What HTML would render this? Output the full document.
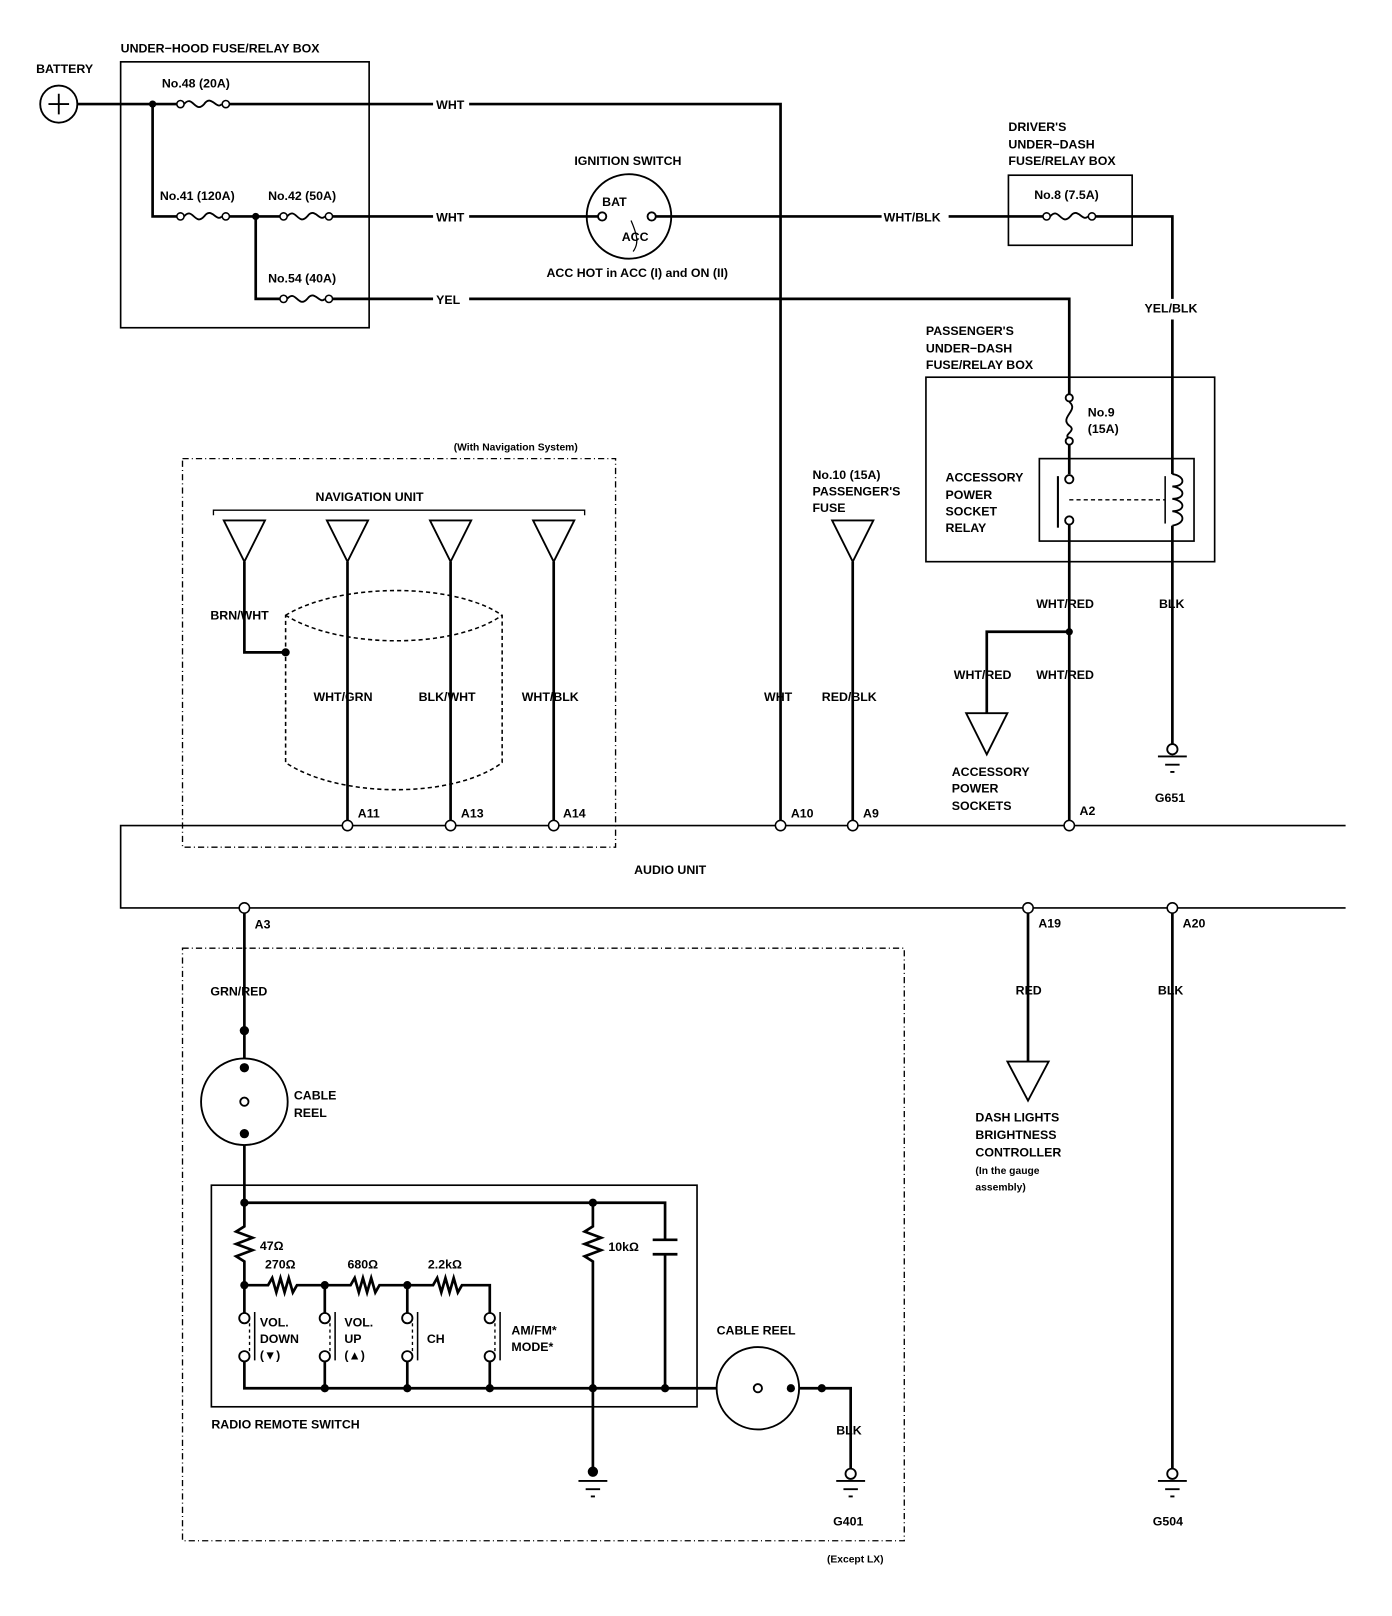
<!DOCTYPE html>
<html><head><meta charset="utf-8"><style>
html,body{margin:0;padding:0;background:#fff}
svg{display:block}
text{font-family:"Liberation Sans",sans-serif;font-weight:bold;font-size:12px;fill:#000}
</style></head><body>
<svg width="1392" height="1616" viewBox="0 0 1350 1568" preserveAspectRatio="none" xmlns="http://www.w3.org/2000/svg">
<defs>
<g id="fh"><circle cx="0" cy="0" r="3.5" fill="#fff" stroke="#000" stroke-width="1.5"/><path d="M3.5,0 C12,-10 14,10 23,0 C30,-10 35,6 40,0" fill="none" stroke="#000" stroke-width="1.8"/><circle cx="44" cy="0" r="3.5" fill="#fff" stroke="#000" stroke-width="1.5"/></g>
</defs>
<g fill="none" stroke="#000" stroke-width="1.6">
<!-- boxes -->
<rect x="117" y="60" width="241" height="258"/>
<rect x="978" y="170" width="120" height="68"/>
<rect x="898" y="366" width="280" height="179"/>
<rect x="1008" y="445" width="150" height="80"/>
<rect x="205" y="1150" width="471" height="215"/>
<path d="M1305,801 H117 V881 H1305"/>
<rect x="177" y="445" width="420" height="377" stroke-dasharray="6,3,1,3" stroke-width="1.3"/>
<rect x="177" y="920" width="700" height="575" stroke-dasharray="6,3,1,3" stroke-width="1.3"/>
<path d="M207,500 V495 H567 V500" stroke-width="1.3"/>
<!-- cylinder -->
<path d="M277,597 C330,565 440,565 487,597 V740 C440,775 330,775 277,740 Z M277,597 C330,630 440,630 487,597" stroke-dasharray="4,3" stroke-width="1.5"/>
</g>
<g fill="none" stroke="#000" stroke-width="2.6">
<path d="M75,101 H175 M219,101 H420 M455,101 H757 V801"/>
<path d="M148,101 V210 H175 M219,210 H275 M319,210 H420 M455,210 H580"/>
<path d="M248,210 V290 H275 M319,290 H420 M455,290 H1037 V383"/>
<path d="M636,210 H855 M920,210 H1015 M1059,210 H1137 V290 M1137,310 V460 M1137,510 V722"/>
<path d="M1037,428 V460 M1037,508 V801"/>
<path d="M1037,613 H957 V692"/>
<path d="M237,545 V633 H277 M337,545 V801 M437,545 V801 M537,545 V801 M827,545 V801"/>
<path d="M237,881 V1027 M237,1111 V1167 H645 V1203 M645,1217 V1347"/>
<path d="M997,881 V1030 M1137,881 V1425"/>
<path d="M237,1167 V1190 L229,1195 L245,1201 L229,1207 L245,1213 L229,1219 L237,1224 V1275"/>
<path d="M575,1167 V1190 L567,1195 L583,1201 L567,1207 L583,1213 L567,1219 L575,1224 V1430"/>
<path d="M237,1247 H260 L264,1240 L268,1254 L272,1240 L276,1254 L280,1240 L284,1254 L288,1247 H340 L344,1240 L348,1254 L352,1240 L356,1254 L360,1240 L364,1254 L368,1247 H420 L424,1240 L428,1254 L432,1240 L436,1254 L440,1240 L444,1254 L448,1247 H475 V1275"/>
<path d="M315,1247 V1275 M395,1247 V1275"/>
<path d="M237,1321 V1347 H695 M315,1321 V1347 M395,1321 V1347 M475,1321 V1347"/>
<path d="M775,1347 H825 V1425"/>
<path d="M633,1203 H657 M633,1217 H657"/>
</g>
<!-- fuses -->
<use href="#fh" x="175" y="101"/><use href="#fh" x="175" y="210"/><use href="#fh" x="275" y="210"/><use href="#fh" x="275" y="290"/><use href="#fh" x="1015" y="210"/>
<g fill="none" stroke="#000" stroke-width="1.8">
<circle cx="1037" cy="386" r="3.5" fill="#fff"/><path d="M1037,390 C1047,398 1027,405 1037,413 C1045,418 1030,422 1037,425"/><circle cx="1037" cy="428" r="3.5" fill="#fff"/>
<circle cx="57" cy="101" r="18"/><path d="M47,101 H67 M57,91 V111"/>
<circle cx="610" cy="210" r="41"/><circle cx="584" cy="210" r="4" fill="#fff"/><circle cx="632" cy="210" r="4" fill="#fff"/><path d="M612,214 C618,228 620,236 614,244" stroke-width="1.2"/>
<circle cx="1037" cy="465" r="4" fill="#fff"/><circle cx="1037" cy="505" r="4" fill="#fff"/>
<path d="M1026,462 V512" stroke-width="2"/>
<path d="M1037,485 H1130" stroke-dasharray="4,3" stroke-width="1.3"/>
<path d="M1137,460 C1150,462 1150,472 1137,472 C1150,474 1150,484 1137,484 C1150,486 1150,496 1137,496 C1150,498 1150,508 1137,510"/>
<path d="M1130,462 V508" stroke-width="1.5"/>
<path d="M217,505 H257 L237,545 Z M317,505 H357 L337,545 Z M417,505 H457 L437,545 Z M517,505 H557 L537,545 Z M807,505 H847 L827,545 Z"/>
<path d="M937,692 H977 L957,732 Z M977,1030 H1017 L997,1068 Z"/>
<circle cx="237" cy="1069" r="42"/><circle cx="237" cy="1069" r="4"/>
<circle cx="735" cy="1347" r="40"/><circle cx="735" cy="1347" r="4"/>
<!-- switches -->
<g fill="#fff"><circle cx="237" cy="1279" r="5"/><circle cx="237" cy="1316" r="5"/><circle cx="315" cy="1279" r="5"/><circle cx="315" cy="1316" r="5"/><circle cx="395" cy="1279" r="5"/><circle cx="395" cy="1316" r="5"/><circle cx="475" cy="1279" r="5"/><circle cx="475" cy="1316" r="5"/></g>
<path d="M242,1284 V1312 M320,1284 V1312 M400,1284 V1312 M480,1284 V1312" stroke-dasharray="3,3" stroke-width="1.3"/>
<path d="M247,1273 V1320 M325,1273 V1320 M405,1273 V1320 M485,1273 V1320" stroke-width="1.5"/>
<!-- grounds -->
<g fill="#fff"><circle cx="1137" cy="727" r="5"/><circle cx="1137" cy="1430" r="5"/><circle cx="825" cy="1430" r="5"/></g>
<path d="M1123,734 H1151 M1130,742 H1144 M1135,749 H1139 M1123,1437 H1151 M1130,1445 H1144 M1135,1452 H1139 M811,1437 H839 M818,1445 H832 M823,1452 H827 M561,1437 H589 M568,1445 H582 M573,1452 H577"/>
<!-- terminals -->
<g fill="#fff" stroke-width="1.5"><circle cx="337" cy="801" r="5"/><circle cx="437" cy="801" r="5"/><circle cx="537" cy="801" r="5"/><circle cx="757" cy="801" r="5"/><circle cx="827" cy="801" r="5"/><circle cx="1037" cy="801" r="5"/><circle cx="237" cy="881" r="5"/><circle cx="997" cy="881" r="5"/><circle cx="1137" cy="881" r="5"/></g>
</g>
<g fill="#000">
<circle cx="148" cy="101" r="3.5"/><circle cx="248" cy="210" r="3.5"/><circle cx="277" cy="633" r="4"/><circle cx="1037" cy="613" r="3.5"/>
<circle cx="237" cy="1000" r="4.5"/><circle cx="237" cy="1036" r="4.5"/><circle cx="237" cy="1100" r="4.5"/>
<circle cx="237" cy="1167" r="4"/><circle cx="575" cy="1167" r="4"/><circle cx="237" cy="1247" r="4"/><circle cx="315" cy="1247" r="4"/><circle cx="395" cy="1247" r="4"/>
<circle cx="315" cy="1347" r="4"/><circle cx="395" cy="1347" r="4"/><circle cx="475" cy="1347" r="4"/><circle cx="575" cy="1347" r="4"/><circle cx="645" cy="1347" r="4"/><circle cx="767" cy="1347" r="4"/><circle cx="797" cy="1347" r="4"/>
<circle cx="575" cy="1428" r="5"/>
</g>
<text x="35" y="71">BATTERY</text>
<text x="117" y="51">UNDER−HOOD FUSE/RELAY BOX</text>
<text x="157" y="85">No.48 (20A)</text>
<text x="155" y="194">No.41 (120A)</text>
<text x="260" y="194">No.42 (50A)</text>
<text x="260" y="274">No.54 (40A)</text>
<text x="423" y="106">WHT</text><text x="423" y="215">WHT</text><text x="423" y="295">YEL</text>
<text x="557" y="160">IGNITION SWITCH</text>
<text x="584" y="200">BAT</text><text x="603" y="234">ACC</text>
<text x="530" y="269">ACC HOT in ACC (I) and ON (II)</text>
<text x="857" y="215">WHT/BLK</text>
<text x="978" y="127">DRIVER'S</text><text x="978" y="144">UNDER−DASH</text><text x="978" y="160">FUSE/RELAY BOX</text>
<text x="1003" y="193">No.8 (7.5A)</text>
<text x="1110" y="303">YEL/BLK</text>
<text x="898" y="325">PASSENGER'S</text><text x="898" y="342">UNDER−DASH</text><text x="898" y="358">FUSE/RELAY BOX</text>
<text x="1055" y="404">No.9</text><text x="1055" y="420">(15A)</text>
<text x="917" y="467">ACCESSORY</text><text x="917" y="484">POWER</text><text x="917" y="500">SOCKET</text><text x="917" y="516">RELAY</text>
<text x="1005" y="590">WHT/RED</text><text x="1124" y="590">BLK</text>
<text x="925" y="659">WHT/RED</text><text x="1005" y="659">WHT/RED</text>
<text x="923" y="753">ACCESSORY</text><text x="923" y="769">POWER</text><text x="923" y="786">SOCKETS</text>
<text x="1120" y="778">G651</text>
<text x="440" y="437" style="font-size:10px">(With Navigation System)</text>
<text x="306" y="486">NAVIGATION UNIT</text>
<text x="788" y="465">No.10 (15A)</text><text x="788" y="481">PASSENGER'S</text><text x="788" y="497">FUSE</text>
<text x="204" y="601">BRN/WHT</text>
<text x="304" y="680">WHT/GRN</text><text x="406" y="680">BLK/WHT</text><text x="506" y="680">WHT/BLK</text>
<text x="741" y="680">WHT</text><text x="797" y="680">RED/BLK</text>
<text x="347" y="793">A11</text><text x="447" y="793">A13</text><text x="546" y="793">A14</text><text x="767" y="793">A10</text><text x="837" y="793">A9</text><text x="1047" y="791">A2</text>
<text x="615" y="848">AUDIO UNIT</text>
<text x="247" y="901">A3</text><text x="1007" y="900">A19</text><text x="1147" y="900">A20</text>
<text x="204" y="966">GRN/RED</text>
<text x="985" y="965">RED</text><text x="1123" y="965">BLK</text>
<text x="285" y="1067">CABLE</text><text x="285" y="1084">REEL</text>
<text x="946" y="1088">DASH LIGHTS</text><text x="946" y="1105">BRIGHTNESS</text><text x="946" y="1122">CONTROLLER</text>
<text x="946" y="1139" style="font-size:10px">(In the gauge</text><text x="946" y="1155" style="font-size:10px">assembly)</text>
<text x="252" y="1213">47Ω</text><text x="257" y="1231">270Ω</text><text x="337" y="1231">680Ω</text><text x="415" y="1231">2.2kΩ</text><text x="590" y="1214">10kΩ</text>
<text x="252" y="1287">VOL.</text><text x="252" y="1303">DOWN</text><text x="252" y="1319">(▼)</text>
<text x="334" y="1287">VOL.</text><text x="334" y="1303">UP</text><text x="334" y="1319">(▲)</text>
<text x="414" y="1303">CH</text>
<text x="496" y="1295">AM/FM*</text><text x="496" y="1311">MODE*</text>
<text x="695" y="1295">CABLE REEL</text>
<text x="205" y="1386">RADIO REMOTE SWITCH</text>
<text x="811" y="1392">BLK</text>
<text x="808" y="1480">G401</text><text x="1118" y="1480">G504</text>
<text x="802" y="1516" style="font-size:10px">(Except LX)</text>
</svg>
</body></html>
